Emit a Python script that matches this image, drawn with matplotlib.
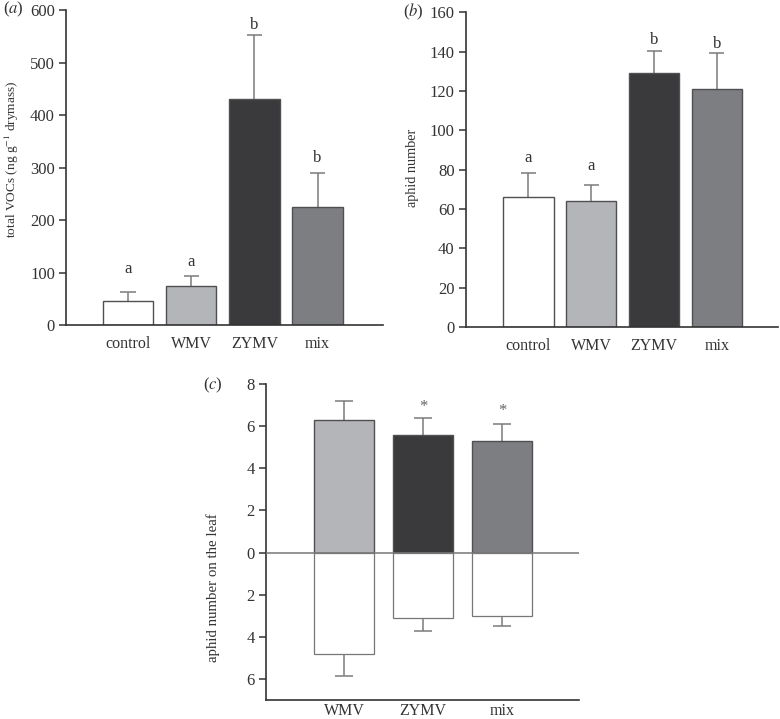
import numpy as np
import matplotlib.pyplot as plt

plt.rcParams['font.family'] = ['Liberation Serif', 'DejaVu Serif']
plt.rcParams['mathtext.fontset'] = 'stix'

# --- data ---
groups_ab = ["control", "WMV", "ZYMV", "mix"]
vocs_mean = [45, 74, 430, 225]
vocs_se = [17, 20, 123, 64]
vocs_letters = ["a", "a", "b", "b"]
vocs_letter_y = [107, 120, 571, 318]

aphid_mean = [66, 64, 129, 121]
aphid_se = [12.5, 8, 11.5, 18.5]
aphid_letters = ["a", "a", "b", "b"]
aphid_letter_y = [86, 82, 146, 144]

groups_c = ["WMV", "ZYMV", "mix"]
leaf_infected = [6.3, 5.6, 5.3]
leaf_infected_se = [0.9, 0.8, 0.8]
leaf_healthy = [4.8, 3.1, 3.0]
leaf_healthy_se = [1.05, 0.6, 0.5]
leaf_marks = ["", "*", "*"]
leaf_mark_y = [0, 6.9, 6.7]

colors_ab = ["#ffffff", "#b4b5b9", "#3a3a3c", "#7d7e82"]
colors_c = colors_ab[1:]
edge = "#505052"
errc = "#7a7a7a"
txtc = "#333333"

fig = plt.figure(figsize=(7.8, 7.19), dpi=100)


def style(ax):
    for s in ["top", "right"]:
        ax.spines[s].set_visible(False)
    for s in ["left", "bottom"]:
        ax.spines[s].set_color("#333333")
        ax.spines[s].set_linewidth(1.2)
    ax.tick_params(axis="y", direction="out", length=5, width=1.1,
                   color="#333333", labelsize=12, labelcolor=txtc, pad=3)
    ax.tick_params(axis="x", length=0, labelsize=11.5, labelcolor=txtc)


def err_up(ax, x, top, se, cap):
    # one-sided error bar: stem from the bar end, cap at the far end
    top = np.asarray(top, float)
    end = top + np.asarray(se, float)
    ax.vlines(x, top, end, color=errc, linewidth=1.1, zorder=1)
    ax.hlines(end, x - cap / 2, x + cap / 2, color=errc, linewidth=1.1, zorder=1)


def bar_panel(ax, mean, se, letters, letter_y):
    x = np.arange(len(mean))
    ax.bar(x, mean, width=0.8, color=colors_ab, edgecolor=edge, linewidth=1.0, zorder=2)
    err_up(ax, x, mean, se, 0.24)
    for xi, lab, ly in zip(x, letters, letter_y):
        ax.text(xi, ly, lab, ha="center", va="center", fontsize=12, color=txtc)
    ax.set_xticks(x)
    ax.set_xticklabels(groups_ab)
    ax.tick_params(axis="x", pad=8)
    style(ax)


# (a) total VOCs
ax1 = fig.add_axes([0.0846, 0.548, 0.406, 0.438])
bar_panel(ax1, vocs_mean, vocs_se, vocs_letters, vocs_letter_y)
ax1.set_xlim(-0.98, 4.03)
ax1.set_ylim(0, 600)
ax1.set_yticks(range(0, 601, 100))
ax1.set_ylabel("total VOCs (ng g$^{-1}$ drymass)", fontsize=9.6, color=txtc)
ax1.yaxis.set_label_coords(-0.142, 0.527)
fig.text(0.004, 0.987, r"($\it{a}$)", fontsize=12, color=txtc, va="center")

# (b) aphid number
ax2 = fig.add_axes([0.597, 0.545, 0.401, 0.438])
bar_panel(ax2, aphid_mean, aphid_se, aphid_letters, aphid_letter_y)
ax2.set_xlim(-1.0, 3.98)
ax2.set_ylim(0, 160)
ax2.set_yticks(range(0, 161, 20))
ax2.set_ylabel("aphid number", fontsize=10.2, color=txtc)
ax2.yaxis.set_label_coords(-0.150, 0.505)
fig.text(0.517, 0.983, r"($\it{b}$)", fontsize=12, color=txtc, va="center")

# (c) aphid number on the leaf
ax3 = fig.add_axes([0.341, 0.026, 0.401, 0.44])
xc = np.arange(len(groups_c))
neg = -np.array(leaf_healthy)
ax3.bar(xc, leaf_infected, width=0.76, color=colors_c, edgecolor=edge, linewidth=1.0, zorder=2)
ax3.bar(xc, neg, width=0.76, color="white", edgecolor="#777777", linewidth=0.9, zorder=2)
err_up(ax3, xc, leaf_infected, leaf_infected_se, 0.22)
err_up(ax3, xc, neg, -np.array(leaf_healthy_se), 0.22)
ax3.axhline(0, color="#777777", linewidth=1.1, zorder=3)
for xi, m, my in zip(xc, leaf_marks, leaf_mark_y):
    if m:
        ax3.text(xi, my, m, ha="center", va="center", fontsize=12, color="#666666")
ax3.set_xlim(-0.99, 2.97)
ax3.set_ylim(-7, 8)
yt = [8, 6, 4, 2, 0, -2, -4, -6]
ax3.set_yticks(yt)
ax3.set_yticklabels([str(abs(v)) for v in yt])
ax3.set_xticks(xc)
ax3.set_xticklabels(groups_c)
style(ax3)
ax3.tick_params(axis="x", pad=2)
ax3.set_ylabel("aphid number on the leaf", fontsize=10.7, color=txtc)
ax3.yaxis.set_label_coords(-0.147, 0.357)
fig.text(0.260, 0.464, r"($\it{c}$)", fontsize=12, color=txtc, va="center")

fig.savefig("out.png", dpi=100)
